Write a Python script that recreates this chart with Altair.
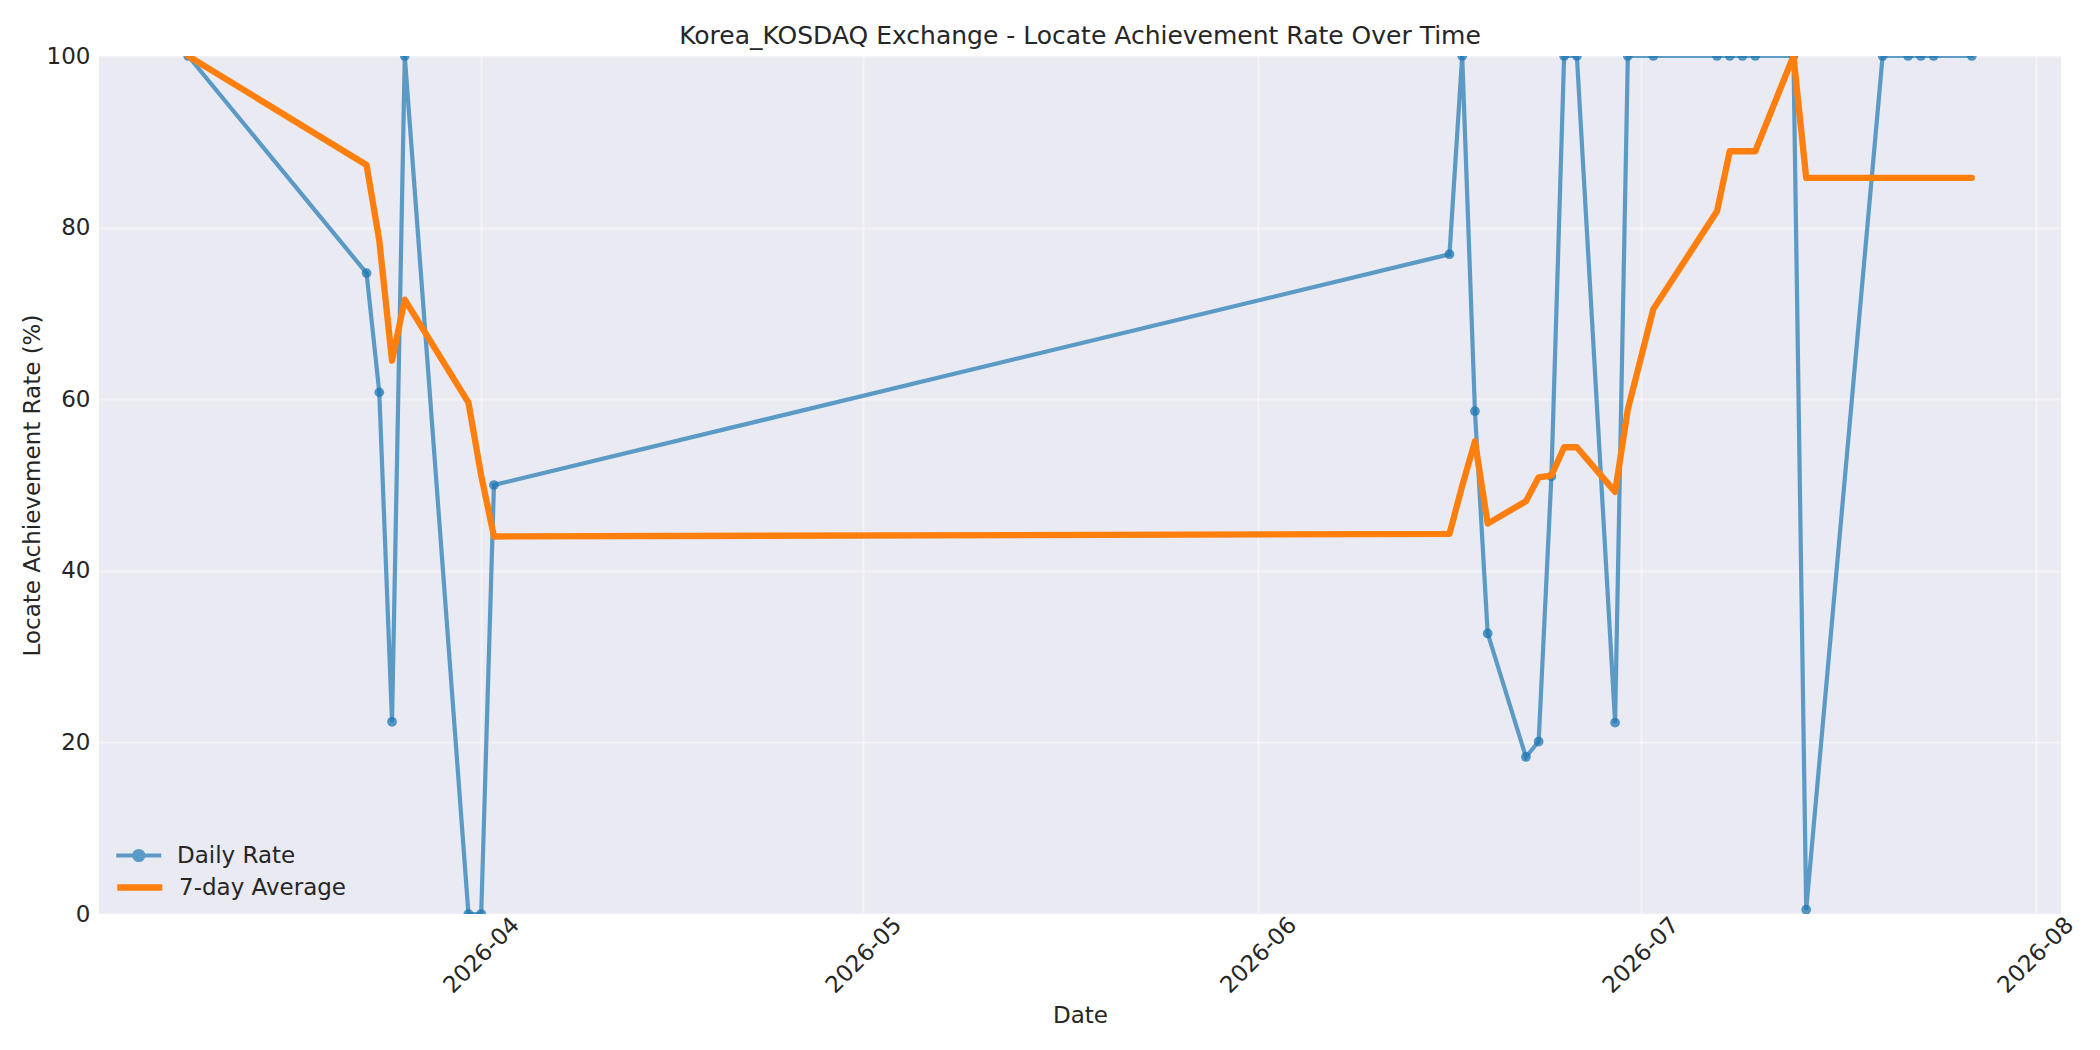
import altair as alt
import pandas as pd

# observation dates and locate achievement rates (%)
dates = [
    "2026-03-09", "2026-03-23", "2026-03-24", "2026-03-25", "2026-03-26",
    "2026-03-31", "2026-04-01", "2026-04-02", "2026-06-16", "2026-06-17",
    "2026-06-18", "2026-06-19", "2026-06-22", "2026-06-23", "2026-06-24",
    "2026-06-25", "2026-06-26", "2026-06-29", "2026-06-30", "2026-07-02",
    "2026-07-07", "2026-07-08", "2026-07-09", "2026-07-10", "2026-07-13",
    "2026-07-14", "2026-07-20", "2026-07-22", "2026-07-23", "2026-07-24",
    "2026-07-27",
]
daily_rate = [
    100.0, 74.7, 60.8, 22.4, 100.0, 0.0, 0.0, 50.0, 76.9, 100.0,
    58.6, 32.7, 18.3, 20.1, 51.0, 100.0, 100.0, 22.3, 100.0, 100.0,
    100.0, 100.0, 100.0, 100.0, 100.0, 0.5, 100.0, 100.0, 100.0, 100.0,
    100.0,
]
avg_rate = [
    100.0, 87.3, 78.5, 64.5, 71.6, 59.6, 51.1, 44.0, 44.3, 49.9,
    55.1, 45.5, 48.1, 50.9, 51.1, 54.4, 54.4, 49.2, 58.8, 70.5,
    81.9, 88.9, 88.9, 88.9, 100.0, 85.8, 85.8, 85.8, 85.8, 85.8,
    85.8,
]
series_names = ["Daily Rate", "7-day Average"]
series_colors = ["#1f77b4", "#ff7f0e"]
y_ticks = [0, 20, 40, 60, 80, 100]
month_ticks = [(2026, 4), (2026, 5), (2026, 6), (2026, 7), (2026, 8)]

FONT = "DejaVu Sans"
INK = "#262626"
W, H = 1962, 858

daily = pd.DataFrame({"date": pd.to_datetime(dates), "rate": daily_rate, "series": series_names[0]})
avg = pd.DataFrame({"date": pd.to_datetime(dates), "rate": avg_rate, "series": series_names[1]})

# legend handles: a line, with a marker for the daily series
PATH_DAILY = "M-1,0H3M1.4,0A0.4,0.4,0,1,1,0.6,0A0.4,0.4,0,1,1,1.4,0Z"
PATH_AVG = "M-1,0H3"


def make_legend(row, path, width, opacity):
    return alt.Legend(
        title=None,
        orient="none",
        legendX=15,
        legendY=786 + 31 * row,
        labelFont=FONT,
        labelFontSize=23,
        labelColor=INK,
        labelLimit=400,
        symbolType=path,
        symbolSize=506,
        symbolStrokeWidth=width,
        symbolStrokeColor=series_colors[row],
        symbolFillColor=series_colors[row] if row == 0 else "transparent",
        symbolOpacity=opacity,
        labelOffset=36,
        padding=0,
    )


x = alt.X(
    "date:T",
    scale=alt.Scale(domain=[alt.DateTime(year=2026, month=3, date=2), alt.DateTime(year=2026, month=8, date=3)]),
    axis=alt.Axis(
        title="Date",
        values=[alt.DateTime(year=yy, month=mm, date=1) for yy, mm in month_ticks],
        format="%Y-%m",
        labelAngle=315,
        labelAlign="center",
        labelBaseline="middle",
        labelPadding=41,
        labelOverlap=False,
        titleX=W / 2,
        titleY=108,
        titleBaseline="alphabetic",
    ),
)
y = alt.Y(
    "rate:Q",
    scale=alt.Scale(domain=[0, 100], nice=False),
    axis=alt.Axis(
        title="Locate Achievement Rate (%)",
        values=y_ticks,
        format="d",
        labelPadding=9,
        titleX=-60,
        titleY=H / 2,
        titleAngle=270,
        titleAlign="center",
        titleBaseline="alphabetic",
    ),
)

daily_line = alt.Chart(daily).mark_line(strokeWidth=4.2, opacity=0.7, strokeCap="round", clip=True).encode(
    x=x,
    y=y,
    color=alt.Color(
        "series:N",
        scale=alt.Scale(domain=[series_names[0]], range=[series_colors[0]]),
        legend=make_legend(0, PATH_DAILY, 4.2, 0.7),
    ),
)
daily_pts = alt.Chart(daily).mark_circle(size=95, opacity=0.75, color=series_colors[0], clip=True).encode(
    x="date:T", y="rate:Q"
)
avg_line = alt.Chart(avg).mark_line(strokeWidth=6.3, strokeCap="round", strokeJoin="round", clip=True).encode(
    x="date:T",
    y="rate:Q",
    color=alt.Color(
        "series:N",
        scale=alt.Scale(domain=[series_names[1]], range=[series_colors[1]]),
        legend=make_legend(1, PATH_AVG, 6.3, 1),
    ),
)

chart = (
    alt.layer(daily_line, daily_pts, avg_line)
    .resolve_scale(color="independent")
    .properties(
        width=W,
        height=H,
        title=alt.TitleParams(
            text="Korea_KOSDAQ Exchange - Locate Achievement Rate Over Time",
            font=FONT,
            fontSize=25,
            fontWeight="normal",
            color=INK,
            anchor="middle",
            frame="group",
            baseline="alphabetic",
            offset=1,
            dy=25,
        ),
        autosize=alt.AutoSizeParams(type="none"),
        padding={"left": 91, "top": 48, "right": 30, "bottom": 120},
    )
    .configure(background="white")
    .configure_view(fill="#EAEAF2", stroke=None)
    .configure_axis(
        labelFont=FONT,
        labelFontSize=23,
        labelColor=INK,
        titleFont=FONT,
        titleFontSize=23,
        titleFontWeight="normal",
        titleColor=INK,
        ticks=False,
        domain=False,
        grid=True,
        gridColor="white",
        gridOpacity=0.4,
        gridWidth=2,
    )
)

chart.save("out.html", embed_options={"renderer": "svg", "actions": False})
